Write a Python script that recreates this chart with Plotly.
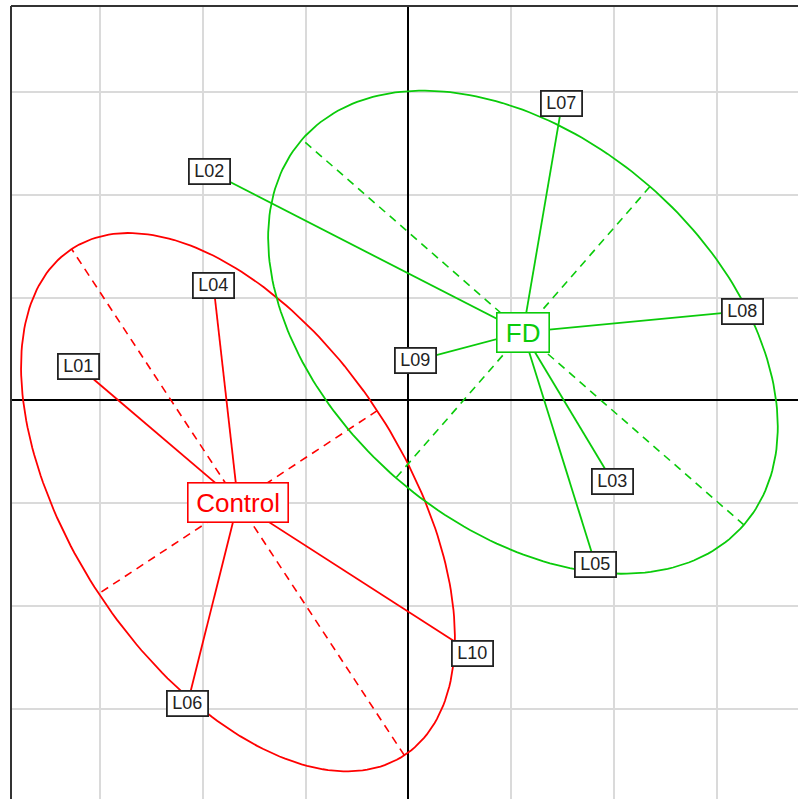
import numpy as np
import plotly.graph_objects as go

# ---- data ----
labels = ["L01", "L02", "L03", "L04", "L05", "L06", "L07", "L08", "L09", "L10"]
xs = [-3.211, -1.938, 1.988, -1.896, 1.820, -2.149, 1.494, 3.253, 0.069, 0.624]
ys = [0.332, 2.229, -0.791, 1.118, -1.596, -2.951, 2.885, 0.868, 0.388, -2.457]
groups = ["Control", "FD", "FD", "Control", "FD", "Control", "FD", "FD", "FD", "Control"]
group_names = ["Control", "FD"]
group_colors = {"Control": "#FF0000", "FD": "#0ACB0A"}
group_box_w = {"Control": 91, "FD": 43}
cellipse = 1.5

XR = [-3.866, 3.79]
YR = [-3.877, 3.837]

fig = go.Figure()
annotations = []

for g in group_names:
    idx = [i for i, gg in enumerate(groups) if gg == g]
    px = np.array([xs[i] for i in idx])
    py = np.array([ys[i] for i in idx])
    mx, my = px.mean(), py.mean()
    col = group_colors[g]
    dx, dy = px - mx, py - my
    cov = np.array([[np.mean(dx * dx), np.mean(dx * dy)],
                    [np.mean(dx * dy), np.mean(dy * dy)]])
    vals, vecs = np.linalg.eigh(cov)
    a = cellipse * np.sqrt(vals[1])
    b = cellipse * np.sqrt(vals[0])
    v1 = vecs[:, 1]
    v2 = vecs[:, 0]
    t = np.linspace(0, 2 * np.pi, 241)
    ex = mx + a * np.cos(t) * v1[0] + b * np.sin(t) * v2[0]
    ey = my + a * np.cos(t) * v1[1] + b * np.sin(t) * v2[1]
    fig.add_trace(go.Scatter(x=ex, y=ey, mode="lines",
                             line=dict(color=col, width=1.8),
                             hoverinfo="skip", showlegend=False))
    axx = [mx - a * v1[0], mx + a * v1[0], None, mx - b * v2[0], mx + b * v2[0]]
    axy = [my - a * v1[1], my + a * v1[1], None, my - b * v2[1], my + b * v2[1]]
    fig.add_trace(go.Scatter(x=axx, y=axy, mode="lines",
                             line=dict(color=col, width=1.6, dash="8px,6px"),
                             hoverinfo="skip", showlegend=False))
    sx, sy = [], []
    for xx, yy in zip(px, py):
        sx += [mx, xx, None]
        sy += [my, yy, None]
    fig.add_trace(go.Scatter(x=sx, y=sy, mode="lines",
                             line=dict(color=col, width=1.8),
                             hoverinfo="skip", showlegend=False))
    annotations.append(dict(x=mx, y=my, text=g, showarrow=False,
                            font=dict(family="Liberation Sans", size=26, color=col),
                            bgcolor="white", bordercolor=col, borderwidth=1.6,
                            borderpad=4, width=group_box_w[g],
                            xanchor="center", yanchor="middle"))

for lab, xx, yy in zip(labels, xs, ys):
    annotations.append(dict(x=xx, y=yy, text=lab, showarrow=False,
                            font=dict(family="Liberation Sans", size=18, color="#222222"),
                            bgcolor="white", bordercolor="#222222", borderwidth=1.8,
                            borderpad=1.5, width=36, xanchor="center", yanchor="middle"))

shapes = [
    dict(type="line", xref="paper", yref="paper", x0=0, x1=0, y0=0, y1=1,
         line=dict(color="#333333", width=2)),
    dict(type="line", xref="paper", yref="paper", x0=0, x1=1, y0=1, y1=1,
         line=dict(color="#333333", width=2)),
]

fig.update_layout(
    width=798, height=799,
    margin=dict(l=11, r=0, t=6, b=0),
    paper_bgcolor="white", plot_bgcolor="white",
    xaxis=dict(range=XR, dtick=1, tick0=0, showgrid=True, gridcolor="#DADADA",
               gridwidth=1.5, zeroline=True, zerolinecolor="black", zerolinewidth=1.5,
               showticklabels=False, ticks="", showline=False, fixedrange=True),
    yaxis=dict(range=YR, dtick=1, tick0=0, showgrid=True, gridcolor="#DADADA",
               gridwidth=1.5, zeroline=True, zerolinecolor="black", zerolinewidth=1.5,
               showticklabels=False, ticks="", showline=False, fixedrange=True),
    annotations=annotations,
    shapes=shapes,
    showlegend=False,
)

fig.write_html("out.html", config={"displayModeBar": False},
               post_script="document.body.style.margin='0';")
